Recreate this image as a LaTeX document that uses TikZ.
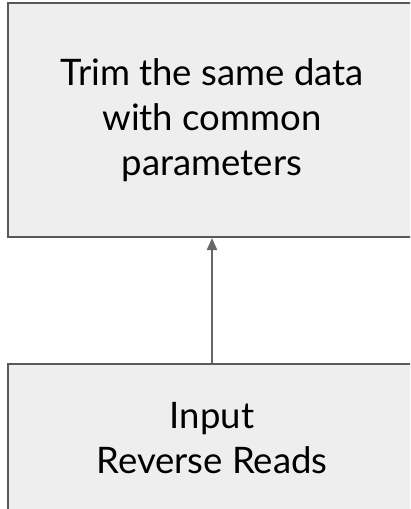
\documentclass[tikz,border=0pt]{standalone}
\usepackage{fontspec}
\setmainfont{Lato}
\usetikzlibrary{arrows.meta}
\definecolor{boxfill}{HTML}{EEEEEE}
\definecolor{boxline}{HTML}{595959}
\definecolor{arrowcol}{HTML}{666666}
\begin{document}
\begin{tikzpicture}[x=1pt,y=-1pt,
  stepbox/.style={draw=boxline, line width=2pt, fill=boxfill, inner sep=0pt,
    align=center, font=\fontsize{36.5}{45}\selectfont, text=black},
  conn/.style={draw=arrowcol, line width=2pt, -{Triangle[length=12pt,width=10pt]}}]
\useasboundingbox (0,0) rectangle (410,509);
\clip (0,0) rectangle (410,509);
\node[stepbox, minimum width=408pt, minimum height=234pt] (trim) at (212,120)
  {Trim the same data\\with common\\parameters};
\node[stepbox, minimum width=408pt, minimum height=148pt] (input) at (212,438)
  {Input\\Reverse Reads};
\draw[conn] (input.north) -- (trim.south);
\end{tikzpicture}
\end{document}
